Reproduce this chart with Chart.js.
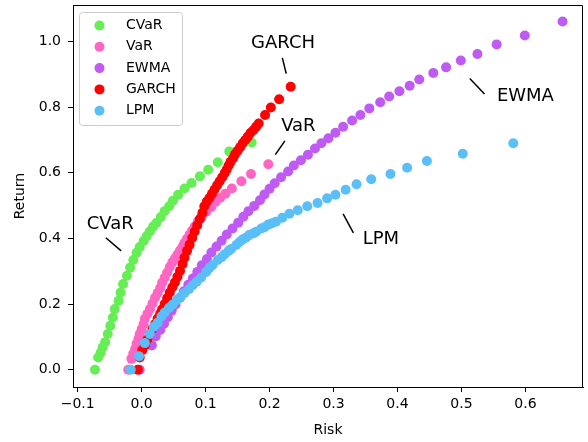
<!DOCTYPE html>
<html>
<head>
<meta charset="utf-8">
<script src="https://cdn.jsdelivr.net/npm/chart.js@4.4.0/dist/chart.umd.min.js"></script>
<style>
  html, body { margin: 0; padding: 0; background: #fff; }
</style>
</head>
<body>
<canvas id="riskChart" width="588" height="442"></canvas>
<script>
const seriesNames = ['CVaR', 'VaR', 'EWMA', 'GARCH', 'LPM'];
const seriesColors = ['#66ee55', '#ff66c4', '#bf5af2', '#ff0000', '#5abff8'];

const cvarRisk = [-0.073,-0.068,-0.064,-0.061,-0.057,-0.053,-0.049,-0.045,-0.042,-0.036,-0.033,-0.029,-0.023,-0.018,-0.013,-0.008,-0.003,0.003,0.008,0.013,0.018,0.023,0.030,0.036,0.043,0.049,0.057,0.067,0.078,0.091,0.104,0.119,0.137,0.172];
const cvarReturn = [0.000,0.037,0.052,0.068,0.084,0.109,0.134,0.159,0.185,0.210,0.235,0.261,0.286,0.311,0.334,0.356,0.374,0.392,0.407,0.422,0.436,0.447,0.465,0.483,0.498,0.515,0.533,0.552,0.569,0.589,0.609,0.632,0.665,0.692];

const varRisk = [-0.021,-0.016,-0.013,-0.010,-0.008,-0.005,-0.003,0.000,0.003,0.005,0.009,0.013,0.017,0.021,0.025,0.029,0.032,0.036,0.040,0.044,0.048,0.052,0.056,0.060,0.064,0.067,0.071,0.075,0.079,0.083,0.088,0.094,0.101,0.109,0.116,0.123,0.131,0.141,0.156,0.171,0.198];
const varReturn = [0.000,0.033,0.049,0.064,0.079,0.094,0.109,0.124,0.139,0.155,0.170,0.185,0.202,0.219,0.234,0.249,0.265,0.280,0.296,0.313,0.327,0.339,0.351,0.363,0.375,0.387,0.399,0.412,0.424,0.436,0.452,0.466,0.481,0.496,0.512,0.524,0.536,0.552,0.574,0.596,0.626];

const ewmaRisk = [-0.003,0.016,0.022,0.029,0.035,0.041,0.047,0.053,0.060,0.066,0.073,0.080,0.087,0.094,0.102,0.109,0.117,0.125,0.133,0.142,0.151,0.159,0.167,0.176,0.185,0.192,0.200,0.208,0.218,0.229,0.238,0.249,0.260,0.271,0.281,0.292,0.303,0.315,0.329,0.342,0.356,0.373,0.387,0.403,0.419,0.434,0.456,0.476,0.499,0.525,0.555,0.599,0.658];
const ewmaReturn = [0.000,0.074,0.101,0.121,0.140,0.160,0.180,0.199,0.219,0.239,0.259,0.278,0.298,0.318,0.337,0.357,0.375,0.393,0.412,0.430,0.448,0.466,0.483,0.499,0.516,0.534,0.551,0.568,0.586,0.604,0.622,0.638,0.655,0.674,0.690,0.705,0.722,0.740,0.759,0.776,0.796,0.815,0.832,0.848,0.865,0.884,0.904,0.921,0.942,0.962,0.991,1.018,1.061];

const garchRisk = [-0.006,-0.003,0.001,0.005,0.009,0.013,0.017,0.021,0.025,0.029,0.032,0.036,0.040,0.044,0.048,0.052,0.056,0.060,0.064,0.067,0.071,0.075,0.079,0.083,0.087,0.091,0.095,0.098,0.102,0.106,0.110,0.114,0.118,0.122,0.126,0.130,0.133,0.136,0.139,0.143,0.146,0.150,0.154,0.158,0.162,0.166,0.170,0.175,0.179,0.183,0.193,0.202,0.215,0.233];
const garchReturn = [0.000,0.037,0.059,0.074,0.092,0.109,0.125,0.139,0.156,0.170,0.184,0.200,0.218,0.235,0.251,0.266,0.283,0.301,0.322,0.341,0.362,0.381,0.401,0.421,0.440,0.459,0.478,0.498,0.512,0.523,0.536,0.549,0.562,0.574,0.586,0.599,0.610,0.622,0.633,0.644,0.656,0.667,0.678,0.690,0.700,0.710,0.721,0.730,0.740,0.750,0.776,0.799,0.824,0.862];

const lpmRisk = [-0.017,-0.004,0.005,0.013,0.019,0.025,0.031,0.036,0.043,0.049,0.055,0.061,0.067,0.074,0.080,0.086,0.093,0.101,0.106,0.111,0.119,0.125,0.130,0.136,0.140,0.148,0.153,0.158,0.163,0.168,0.175,0.179,0.187,0.192,0.198,0.204,0.210,0.220,0.231,0.244,0.259,0.275,0.290,0.303,0.319,0.336,0.359,0.389,0.415,0.446,0.502,0.581];
const lpmReturn = [0.000,0.041,0.081,0.109,0.131,0.143,0.162,0.174,0.189,0.199,0.212,0.222,0.234,0.245,0.257,0.268,0.281,0.298,0.310,0.319,0.334,0.343,0.352,0.362,0.368,0.380,0.389,0.397,0.402,0.410,0.416,0.420,0.430,0.434,0.442,0.446,0.451,0.463,0.475,0.486,0.498,0.508,0.522,0.533,0.548,0.565,0.580,0.596,0.615,0.636,0.658,0.690];

const xTicks = [-0.1, 0.0, 0.1, 0.2, 0.3, 0.4, 0.5, 0.6];
const yTicks = [0.0, 0.2, 0.4, 0.6, 0.8, 1.0];

// text labels on the plot (data units), each with a short pointer stroke
const noteText = ['CVaR', 'VaR', 'EWMA', 'GARCH', 'LPM'];
const noteAt = [[-0.049, 0.444], [0.245, 0.741], [0.600, 0.833], [0.221, 0.995], [0.374, 0.398]];
const noteLine = [
    [-0.056, 0.402, -0.032, 0.362],
    [0.224, 0.697, 0.209, 0.655],
    [0.513, 0.887, 0.536, 0.840],
    [0.220, 0.950, 0.226, 0.902],
    [0.315, 0.475, 0.331, 0.417]
];

const risks = [cvarRisk, varRisk, ewmaRisk, garchRisk, lpmRisk];
const rets = [cvarReturn, varReturn, ewmaReturn, garchReturn, lpmReturn];

const datasets = seriesNames.map((name, i) => ({
    label: name,
    data: risks[i].map((r, j) => ({ x: r, y: rets[i][j] })),
    backgroundColor: seriesColors[i],
    borderWidth: 0,
    pointRadius: 5,
    pointHoverRadius: 5,
    order: seriesNames.length - i   // later series drawn on top, like matplotlib
}));

const FONT = '"DejaVu Sans", sans-serif';

const extras = {
    id: 'extras',
    afterDraw(chart) {
        const { ctx, chartArea: a, scales: { x, y } } = chart;
        ctx.save();

        // top and right spines
        ctx.strokeStyle = '#000';
        ctx.lineWidth = 1;
        ctx.beginPath();
        ctx.moveTo(a.left, a.top + 0.5);
        ctx.lineTo(a.right - 0.5, a.top + 0.5);
        ctx.lineTo(a.right - 0.5, a.bottom);
        ctx.stroke();

        // annotations
        ctx.fillStyle = '#000';
        ctx.font = '18px ' + FONT;
        ctx.textAlign = 'center';
        ctx.textBaseline = 'middle';
        ctx.lineWidth = 1.5;
        noteText.forEach((t, i) => {
            ctx.fillText(t, x.getPixelForValue(noteAt[i][0]), y.getPixelForValue(noteAt[i][1]));
            const l = noteLine[i];
            ctx.beginPath();
            ctx.moveTo(x.getPixelForValue(l[0]), y.getPixelForValue(l[1]));
            ctx.lineTo(x.getPixelForValue(l[2]), y.getPixelForValue(l[3]));
            ctx.stroke();
        });

        // legend box, upper left
        const bx = a.left + 6.5, by = a.top + 7.5, bw = 103, bh = 113;
        ctx.fillStyle = 'rgba(255,255,255,0.8)';
        ctx.strokeStyle = '#cccccc';
        ctx.lineWidth = 1;
        ctx.beginPath();
        ctx.roundRect(bx, by, bw, bh, 3);
        ctx.fill();
        ctx.stroke();
        ctx.font = '14px ' + FONT;
        ctx.textAlign = 'left';
        chart.data.datasets.forEach((ds, i) => {
            const cy = by + 13 + i * 21.3;
            ctx.fillStyle = ds.backgroundColor;
            ctx.beginPath();
            ctx.arc(bx + 20, cy, 5, 0, Math.PI * 2);
            ctx.fill();
            ctx.fillStyle = '#000';
            ctx.fillText(ds.label, bx + 46.5, cy);
        });
        ctx.restore();
    }
};

const fmt = v => (v < 0 ? '\u2212' : '') + Math.abs(v).toFixed(1);

new Chart(document.getElementById('riskChart'), {
    type: 'scatter',
    data: { datasets },
    options: {
        responsive: false,
        animation: false,
        layout: { padding: { top: 3, right: 3, left: 0, bottom: 0 } },
        plugins: {
            legend: { display: false },
            tooltip: { enabled: false }
        },
        scales: {
            x: {
                type: 'linear',
                min: -0.1073,
                max: 0.690,
                afterBuildTicks: s => { s.ticks = xTicks.map(v => ({ value: v })); },
                afterFit: s => { s.height = 55; s.paddingLeft = 0; s.paddingRight = 0; },
                grid: { drawOnChartArea: false, drawTicks: true, tickLength: 5, color: '#000' },
                border: { display: true, color: '#000', width: 1 },
                ticks: { callback: fmt, color: '#000', padding: 4, font: { family: FONT, size: 14 }, maxRotation: 0 },
                title: { display: true, text: 'Risk', color: '#000', font: { family: FONT, size: 14 }, padding: { top: 0, bottom: 3 } }
            },
            y: {
                type: 'linear',
                min: -0.0527,
                max: 1.111,
                afterBuildTicks: s => { s.ticks = yTicks.map(v => ({ value: v })); },
                afterFit: s => { s.width = 73; s.paddingTop = 0; s.paddingBottom = 0; },
                grid: { drawOnChartArea: false, drawTicks: true, tickLength: 5, color: '#000' },
                border: { display: true, color: '#000', width: 1 },
                ticks: { callback: fmt, color: '#000', padding: 7, font: { family: FONT, size: 14 } },
                title: { display: true, text: 'Return', color: '#000', font: { family: FONT, size: 14 }, padding: { top: 12, bottom: 0 } }
            }
        }
    },
    plugins: [extras]
});
</script>
</body>
</html>
